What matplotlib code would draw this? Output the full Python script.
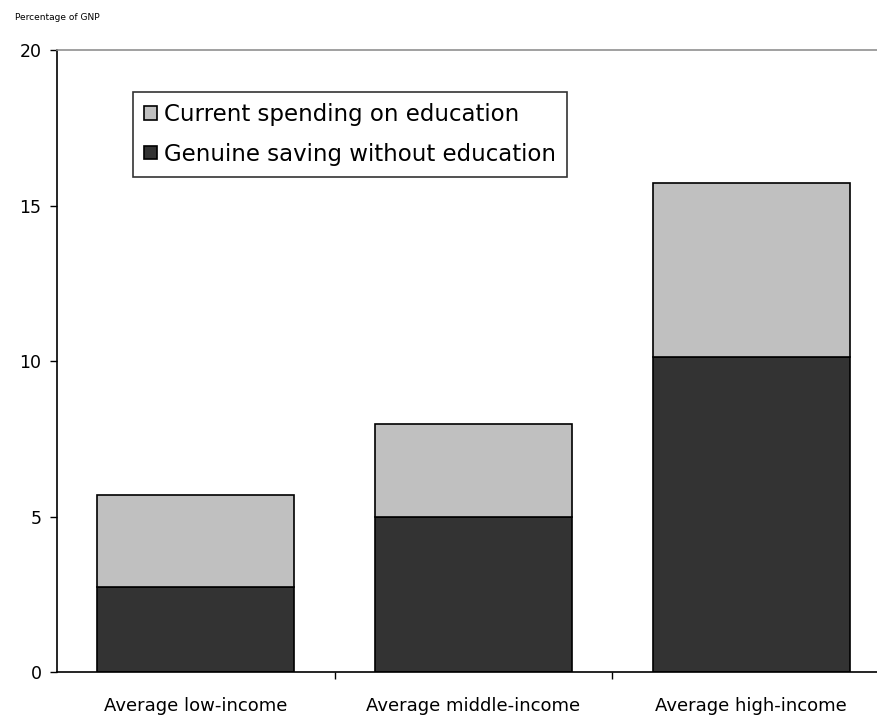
import matplotlib.pyplot as plt
import numpy as np

# =========================
# DATA
# =========================
categories = ["Average low-income", "Average middle-income", "Average high-income"]
saving_wo_edu = [2.76, 5.0, 10.15]
edu_spending = [2.95, 3.0, 5.58]
y_ticks = [0, 5, 10, 15, 20]

LIGHT = "#c0c0c0"
DARK = "#333333"

# =========================
# PLOT
# =========================
fig = plt.figure(figsize=(8.77, 7.19), dpi=100)
ax = fig.add_axes([0.0647, 0.0647, 1.015 - 0.0647, 0.9298 - 0.0647])

x = np.arange(len(categories))
ax.bar(x, saving_wo_edu, width=0.71, color=DARK, edgecolor="black",
       linewidth=1.2, label="Genuine saving without education")
ax.bar(x, edu_spending, width=0.71, bottom=saving_wo_edu, color=LIGHT,
       edgecolor="black", linewidth=1.2, label="Current spending on education")

ax.set_xlim(-0.5, 2.5)
ax.set_ylim(0, 20)
ax.set_yticks(y_ticks)
ax.set_yticklabels([str(t) for t in y_ticks], fontsize=12.5)
ax.tick_params(axis="y", direction="out", length=5, width=1, pad=6)

ax.set_xticks(x)
ax.set_xticklabels(categories, fontsize=13)
ax.set_xticks([0.5, 1.5], minor=True)
ax.tick_params(axis="x", which="major", length=0, pad=18)
ax.tick_params(axis="x", which="minor", direction="out", length=5, width=1)

ax.spines["right"].set_visible(False)
ax.spines["top"].set_color("#909090")
ax.spines["top"].set_linewidth(1.2)
ax.spines["left"].set_linewidth(1.2)
ax.spines["bottom"].set_linewidth(1.2)

handles, labels = ax.get_legend_handles_labels()
leg = fig.legend(handles[::-1], labels[::-1], loc="upper left",
                 bbox_to_anchor=(0.1517, 0.872), fontsize=16.5,
                 frameon=True, fancybox=False, edgecolor="black",
                 handlelength=0.55, handleheight=0.55, handletextpad=0.3,
                 borderpad=0.5, labelspacing=0.7, borderaxespad=0)
leg.get_frame().set_linewidth(1.2)

fig.text(0.017, 0.975, "Percentage of GNP", fontsize=6.5, va="center", ha="left")

plt.savefig("out.png", dpi=100)
